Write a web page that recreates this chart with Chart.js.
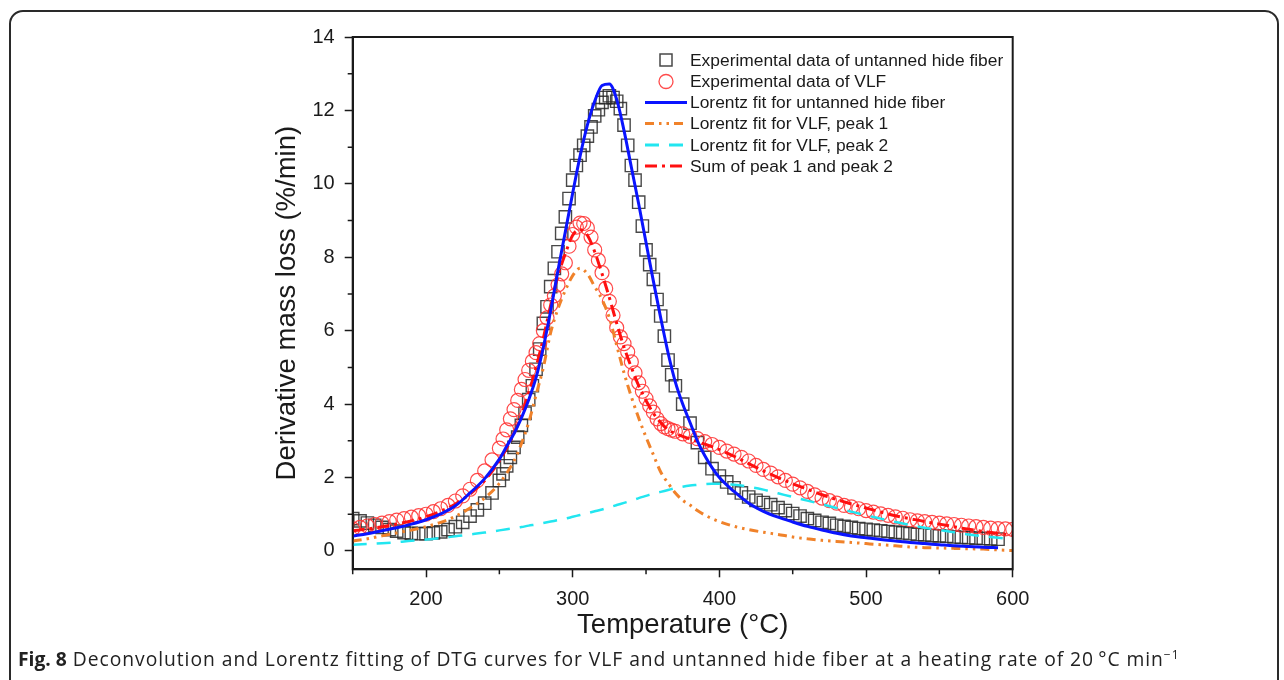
<!DOCTYPE html>
<html>
<head>
<meta charset="utf-8">
<script src="https://cdn.jsdelivr.net/npm/chart.js@4.4.1/dist/chart.umd.min.js"></script>
<style>
  html, body { margin: 0; padding: 0; background: #fff; overflow: hidden; }
  #wrap { position: relative; width: 1284px; height: 680px; }
  #frame { position: absolute; left: 9px; top: 10px; width: 1266px; height: 700px;
           border: 2px solid #2a2a2a; border-radius: 14px; }
  canvas { position: absolute; left: 0; top: 0; }
  #caption { position: absolute; left: 18px; top: 645px; font-family: "Open Sans", sans-serif;
             font-size: 19.3px; letter-spacing: 0.95px; color: #222; white-space: nowrap; }
  #caption b { font-weight: 700; letter-spacing: 0; }
  #caption sup { font-size: 12px; vertical-align: 7px; }
</style>
</head>
<body>
<div id="wrap">
  <div id="frame"></div>
  <canvas id="dtgChart" width="1284" height="680"></canvas>
  <div id="caption"><b>Fig. 8</b> Deconvolution and Lorentz fitting of DTG curves for VLF and untanned hide fiber at a heating rate of 20&#8201;°C min<sup>−1</sup></div>
</div>
<script>
// temperatures (°C) of the experimental points
const tempLow = [150, 155, 160, 165, 170, 175, 180, 185, 190, 195, 200, 205, 210, 215, 220, 225, 230, 235, 240, 245];
const tempPeak = [250, 252.5, 255, 257.5, 260, 262.5, 265, 267.5, 270, 272.5, 275, 277.5, 280, 282.5, 285, 287.5,
  290, 292.5, 295, 297.5, 300, 302.5, 305, 307.5, 310, 312.5, 315, 317.5, 320, 322.5, 325, 327.5, 330, 332.5,
  335, 337.5, 340, 342.5, 345, 347.5, 350, 352.5, 355, 357.5, 360, 362.5, 365, 367.5, 370];
const tempHigh = [375, 380, 385, 390, 395, 400, 405, 410, 415, 420, 425, 430, 435, 440, 445, 450, 455, 460, 465,
  470, 475, 480, 485, 490, 495, 500, 505, 510, 515, 520, 525, 530, 535, 540, 545, 550, 555, 560, 565, 570, 575,
  580, 585, 590];
const hideT = [...tempLow, ...tempPeak, ...tempHigh];
const vlfT = [...hideT, 595, 600];

// experimental DTG, untanned hide fiber (squares)
const hideExp = [0.88, 0.82, 0.76, 0.70, 0.64, 0.58, 0.54, 0.50, 0.48, 0.47, 0.47, 0.49, 0.52, 0.58, 0.66, 0.78, 0.95, 1.12, 1.30, 1.58,
  1.92, 2.10, 2.32, 2.55, 2.82, 3.10, 3.42, 3.75, 4.12, 4.50, 4.95, 5.50, 6.20, 6.65, 7.20, 7.70, 8.15, 8.65, 9.10, 9.60,
  10.10, 10.50, 10.78, 11.05, 11.30, 11.55, 11.85, 12.02, 12.22, 12.35, 12.40, 12.35, 12.25, 12.05, 11.60, 11.05, 10.50, 10.10,
  9.50, 8.85, 8.20, 7.80, 7.40, 6.85, 6.40, 5.85, 5.20, 4.80, 4.50,
  4.00, 3.48, 2.95, 2.55, 2.24, 2.04, 1.88, 1.72, 1.58, 1.47, 1.38, 1.32, 1.26, 1.18, 1.10, 1.02, 0.95, 0.88, 0.83, 0.78,
  0.75, 0.70, 0.67, 0.64, 0.61, 0.59, 0.57, 0.55, 0.53, 0.51, 0.49, 0.47, 0.45, 0.44, 0.42, 0.41, 0.40, 0.38, 0.37, 0.36,
  0.35, 0.34, 0.33, 0.32];

// experimental DTG, VLF (circles)
const vlfExp = [0.60, 0.64, 0.68, 0.72, 0.76, 0.80, 0.84, 0.88, 0.92, 0.96, 1.00, 1.07, 1.15, 1.24, 1.36, 1.50, 1.68, 1.92, 2.18, 2.48,
  2.80, 3.05, 3.30, 3.60, 3.85, 4.10, 4.40, 4.67, 4.92, 5.17, 5.40, 5.65, 6.00, 6.35, 6.70, 6.95, 7.25, 7.55, 7.85, 8.30,
  8.62, 8.82, 8.93, 8.92, 8.80, 8.55, 8.20, 7.92, 7.58, 7.15, 6.80, 6.42, 6.08, 5.83, 5.65, 5.42, 5.15, 4.85, 4.58, 4.35,
  4.15, 3.95, 3.78, 3.60, 3.47, 3.38, 3.33, 3.29, 3.26,
  3.19, 3.12, 3.06, 2.98, 2.90, 2.82, 2.72, 2.64, 2.55, 2.45, 2.33, 2.22, 2.12, 2.02, 1.92, 1.82, 1.72, 1.62, 1.53, 1.44,
  1.37, 1.30, 1.24, 1.20, 1.15, 1.10, 1.06, 1.01, 0.97, 0.93, 0.89, 0.85, 0.82, 0.80, 0.78, 0.76, 0.74, 0.72, 0.70, 0.68,
  0.66, 0.64, 0.62, 0.61, 0.60, 0.59];

// temperatures of the fitted curves
const fitT = [150, 160, 170, 180, 190, 200, 210, 220, 230, 240,
  250, 255, 260, 265, 270, 275, 280, 285, 290, 295, 300, 305, 310, 315, 320, 325, 330, 335, 340, 345, 350,
  355, 360, 365, 370, 375, 380, 385, 390, 395, 400,
  410, 420, 430, 440, 450, 460, 470, 480, 490, 500, 510, 520, 530, 540, 550, 560, 570, 580, 590, 600];

const hideFit = [0.41, 0.47, 0.55, 0.63, 0.73, 0.85, 1.01, 1.23, 1.58, 1.97,
  2.50, 2.85, 3.20, 3.62, 4.12, 4.72, 5.55, 6.55, 7.65, 8.70, 9.75, 10.75, 11.60, 12.25, 12.68, 12.72, 12.30, 11.45, 10.45, 9.45, 8.40,
  7.35, 6.35, 5.40, 4.60, 4.00, 3.50, 3.00, 2.60, 2.27, 2.00,
  1.62, 1.30, 1.08, 0.92, 0.79, 0.67, 0.57, 0.48, 0.41, 0.36, 0.31, 0.27, 0.23, 0.20, 0.17, 0.14, 0.12, 0.10, 0.09, null];

const vlfPeak1 = [0.27, 0.33, 0.41, 0.49, 0.57, 0.66, 0.78, 0.94, 1.17, 1.44,
  1.84, 2.12, 2.45, 2.92, 3.50, 4.25, 5.00, 5.95, 6.60, 7.10, 7.50, 7.70, 7.55, 7.20, 6.85, 6.35, 5.60, 4.85, 4.20, 3.62, 3.10,
  2.62, 2.15, 1.85, 1.58, 1.38, 1.25, 1.10, 0.98, 0.88, 0.80,
  0.67, 0.58, 0.51, 0.45, 0.38, 0.33, 0.29, 0.26, 0.23, 0.20, 0.17, 0.14, 0.11, 0.09, 0.08, 0.07, 0.06, 0.05, 0.03, 0.01];

const vlfPeak2 = [0.17, 0.19, 0.21, 0.24, 0.28, 0.31, 0.35, 0.40, 0.45, 0.50,
  0.56, 0.59, 0.62, 0.65, 0.69, 0.72, 0.76, 0.80, 0.84, 0.88, 0.93, 0.98, 1.03, 1.08, 1.13, 1.19, 1.25, 1.31, 1.37, 1.44, 1.50,
  1.56, 1.61, 1.66, 1.71, 1.75, 1.78, 1.80, 1.82, 1.83, 1.83,
  1.80, 1.75, 1.67, 1.57, 1.47, 1.37, 1.27, 1.17, 1.07, 0.97, 0.88, 0.79, 0.71, 0.63, 0.57, 0.51, 0.45, 0.40, 0.36, 0.32];

const vlfSum = [0.55, 0.60, 0.66, 0.73, 0.82, 0.93, 1.08, 1.28, 1.55, 1.92,
  2.45, 2.80, 3.20, 3.70, 4.30, 5.00, 5.80, 6.70, 7.50, 8.10, 8.60, 8.75, 8.60, 8.15, 7.55, 6.90, 6.20, 5.55, 5.00, 4.50, 4.10,
  3.75, 3.50, 3.30, 3.20, 3.12, 3.05, 2.98, 2.91, 2.84, 2.76,
  2.58, 2.38, 2.18, 2.00, 1.83, 1.68, 1.53, 1.40, 1.28, 1.17, 1.06, 0.96, 0.88, 0.80, 0.73, 0.66, 0.59, 0.53, 0.48, 0.43];

const xMajor = [200, 300, 400, 500, 600];
const xMinor = [150, 250, 350, 450, 550];
const yMajor = [0, 2, 4, 6, 8, 10, 12, 14];
const yMinor = [1, 3, 5, 7, 9, 11, 13];

const seriesNames = [
  'Experimental data of untanned hide fiber',
  'Experimental data of VLF',
  'Lorentz fit for untanned hide fiber',
  'Lorentz fit for VLF, peak 1',
  'Lorentz fit for VLF, peak 2',
  'Sum of peak 1 and peak 2'
];

const INK = '#1a1a1a';
const AXIS_FONT = 'Liberation Sans, Arial, sans-serif';

function pts(xs, ys) {
  return xs.map((x, i) => ({ x, y: ys[i] })).filter(p => p.y !== null);
}

function fitLine(label, data, color, dash, width) {
  return {
    label, data, showLine: true, borderColor: color, backgroundColor: color,
    borderWidth: width, borderDash: dash, pointRadius: 0, cubicInterpolationMode: 'monotone', clip: 0,
  };
}

const styles = [
  { kind: 'rect', color: 'rgba(40,40,40,0.85)' },
  { kind: 'circle', color: 'rgba(255,55,55,0.9)' },
  { kind: 'line', color: '#0a14ff', dash: [] },
  { kind: 'line', color: '#f0822a', dash: [9, 5, 2.5, 5, 2.5, 5] },
  { kind: 'line', color: '#22e6f0', dash: [14, 10] },
  { kind: 'line', color: '#ff1010', dash: [12, 5, 3, 5] },
];

// frame, minor ticks and the in-plot legend
const framePlugin = {
  id: 'framePlugin',
  afterDraw(chart) {
    const { ctx, chartArea: a, scales: { x, y } } = chart;
    ctx.save();
    ctx.strokeStyle = INK;
    ctx.lineWidth = 2;
    ctx.strokeRect(a.left, a.top, a.right - a.left, a.bottom - a.top);
    ctx.lineWidth = 1.5;
    ctx.beginPath();
    xMinor.forEach(v => {
      const px = x.getPixelForValue(v);
      ctx.moveTo(px, a.bottom); ctx.lineTo(px, a.bottom + 5);
    });
    yMinor.forEach(v => {
      const py = y.getPixelForValue(v);
      ctx.moveTo(a.left, py); ctx.lineTo(a.left - 5, py);
    });
    ctx.stroke();

    // legend
    const rowY = [60, 81.5, 102.5, 123.5, 145, 166];
    ctx.font = '17.4px ' + AXIS_FONT;
    ctx.textBaseline = 'middle';
    ctx.textAlign = 'left';
    styles.forEach((s, i) => {
      const yy = rowY[i];
      ctx.setLineDash([]);
      if (s.kind === 'rect') {
        ctx.strokeStyle = s.color; ctx.lineWidth = 1.5;
        ctx.strokeRect(660, yy - 6, 12, 12);
      } else if (s.kind === 'circle') {
        ctx.strokeStyle = s.color; ctx.lineWidth = 1.3;
        ctx.beginPath(); ctx.arc(666, yy, 7, 0, Math.PI * 2); ctx.stroke();
      } else {
        ctx.strokeStyle = s.color; ctx.lineWidth = 3;
        ctx.setLineDash(s.dash);
        ctx.beginPath(); ctx.moveTo(645, yy); ctx.lineTo(687, yy); ctx.stroke();
      }
      ctx.setLineDash([]);
      ctx.fillStyle = INK;
      ctx.fillText(seriesNames[i], 690, yy + 1);
    });
    ctx.restore();
  }
};

new Chart(document.getElementById('dtgChart'), {
  type: 'scatter',
  data: {
    datasets: [
      fitLine(seriesNames[2], pts(fitT, hideFit), styles[2].color, styles[2].dash, 3),
      fitLine(seriesNames[5], pts(fitT, vlfSum), styles[5].color, styles[5].dash, 3),
      fitLine(seriesNames[3], pts(fitT, vlfPeak1), styles[3].color, styles[3].dash, 3),
      fitLine(seriesNames[4], pts(fitT, vlfPeak2), styles[4].color, styles[4].dash, 2.5),
      {
        label: seriesNames[1], data: pts(vlfT, vlfExp), pointStyle: 'circle', pointRadius: 7,
        borderColor: styles[1].color, backgroundColor: 'rgba(0,0,0,0)', pointBorderWidth: 1.2, clip: 0,
      },
      {
        label: seriesNames[0], data: pts(hideT, hideExp), pointStyle: 'rect', pointRadius: 8.7,
        borderColor: styles[0].color, backgroundColor: 'rgba(0,0,0,0)', pointBorderWidth: 1.4, clip: 0,
      },
    ]
  },
  options: {
    responsive: false,
    animation: false,
    events: [],
    layout: { padding: { left: 267, top: 37, right: 271.3, bottom: 34.8 } },
    plugins: { legend: { display: false }, tooltip: { enabled: false } },
    scales: {
      x: {
        type: 'linear', min: 150, max: 600,
        afterFit(scale) { scale.height = 75.9; },
        afterBuildTicks(scale) { scale.ticks = xMajor.map(v => ({ value: v })); },
        grid: { drawOnChartArea: false, tickLength: 8, tickWidth: 1.5, tickColor: INK },
        border: { color: INK, width: 2 },
        ticks: { color: INK, padding: 10, font: { family: AXIS_FONT, size: 20 }, maxRotation: 0 },
        title: { display: true, text: 'Temperature (°C)', color: INK, font: { family: AXIS_FONT, size: 27.5 },
                 padding: { top: 0, bottom: 3 } },
      },
      y: {
        type: 'linear', min: -0.5, max: 14,
        afterFit(scale) { scale.width = 85.7; },
        afterBuildTicks(scale) { scale.ticks = yMajor.map(v => ({ value: v })); },
        grid: { drawOnChartArea: false, tickLength: 8, tickWidth: 1.5, tickColor: INK },
        border: { color: INK, width: 2 },
        ticks: { color: INK, padding: 10, font: { family: AXIS_FONT, size: 20 } },
        title: { display: true, text: 'Derivative mass loss (%/min)', color: INK, font: { family: AXIS_FONT, size: 27.5 } },
      }
    }
  },
  plugins: [framePlugin]
});
</script>
</body>
</html>
